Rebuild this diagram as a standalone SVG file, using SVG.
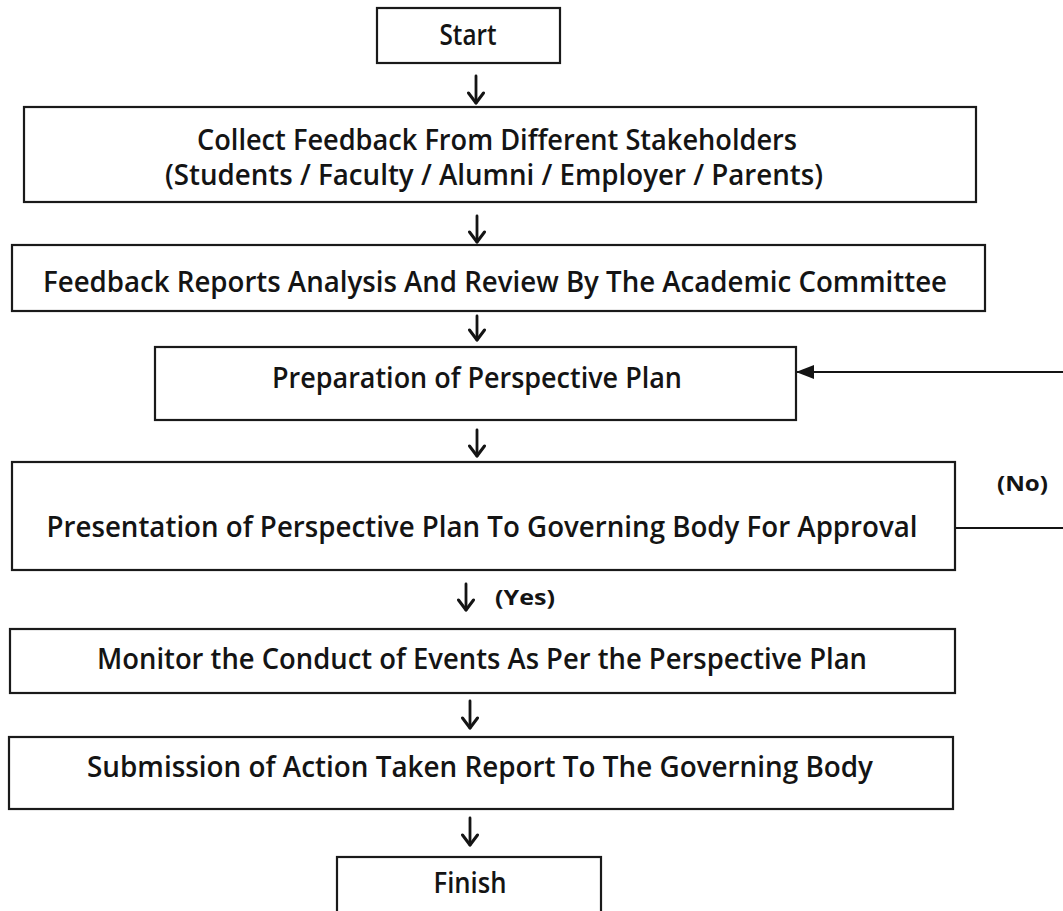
<svg xmlns="http://www.w3.org/2000/svg" width="1063" height="911" viewBox="0 0 1063 911">
  <style>
    .box { fill: #ffffff; stroke: #1a1a1a; stroke-width: 2.2; }
    .lbl { font-family: "Open Sans", "Liberation Sans", sans-serif; font-weight: 600; font-size: 28px; fill: #141414; text-anchor: middle; }
    .tag { font-family: "Open Sans", "Liberation Sans", sans-serif; font-weight: 700; font-size: 22px; fill: #141414; }
    .flow { fill: none; stroke: #141414; stroke-width: 2.8; stroke-linecap: round; }
    .loop { fill: none; stroke: #141414; stroke-width: 2; }
  </style>
  <defs>
    <marker id="chevron" viewBox="0 0 14 18" refX="12" refY="9" markerWidth="14" markerHeight="18" markerUnits="userSpaceOnUse" orient="auto">
      <path d="M2 1.5 L12 9 L2 16.5" fill="none" stroke="#141414" stroke-width="3" stroke-linecap="round" stroke-linejoin="round"/>
    </marker>
    <marker id="solid" viewBox="0 0 18 14" refX="17" refY="7" markerWidth="18" markerHeight="14" markerUnits="userSpaceOnUse" orient="auto">
      <path d="M0 0 L18 7 L0 14 Z" fill="#141414"/>
    </marker>
  </defs>

  <rect width="1063" height="911" fill="#ffffff"/>

  <g id="connectors">
    <path class="flow" d="M476 76 V103" marker-end="url(#chevron)"/>
    <path class="flow" d="M477 216 V242" marker-end="url(#chevron)"/>
    <path class="flow" d="M477 316 V340" marker-end="url(#chevron)"/>
    <path class="flow" d="M477 430 V456" marker-end="url(#chevron)"/>
    <path class="flow" d="M466 584 V610" marker-end="url(#chevron)"/>
    <path class="flow" d="M470 701 V728" marker-end="url(#chevron)"/>
    <path class="flow" d="M470 818 V845" marker-end="url(#chevron)"/>
    <!-- rejection loop back to the plan preparation step -->
    <path class="loop" d="M956 528 H1075 V372 H797" marker-end="url(#solid)"/>
    <text class="tag" x="495" y="605" textLength="60" lengthAdjust="spacingAndGlyphs">(Yes)</text>
    <text class="tag" x="997" y="491" textLength="51" lengthAdjust="spacingAndGlyphs">(No)</text>
  </g>

  <g id="start">
    <rect class="box" x="377" y="8" width="183" height="55"/>
    <text class="lbl" x="468" y="45" font-size="24" textLength="57" lengthAdjust="spacingAndGlyphs">Start</text>
  </g>

  <g id="collect">
    <rect class="box" x="24" y="107" width="952" height="95"/>
    <text class="lbl" x="497" y="150" font-size="25" textLength="600" lengthAdjust="spacingAndGlyphs">Collect Feedback From Different Stakeholders</text>
    <text class="lbl" x="494" y="185" font-size="25" textLength="658" lengthAdjust="spacingAndGlyphs">(Students /  Faculty / Alumni / Employer / Parents)</text>
  </g>

  <g id="review">
    <rect class="box" x="12" y="245" width="973" height="66"/>
    <text class="lbl" x="495" y="292" textLength="904" lengthAdjust="spacingAndGlyphs">Feedback Reports Analysis And Review By The Academic Committee</text>
  </g>

  <g id="prepare">
    <rect class="box" x="155" y="347" width="641" height="73"/>
    <text class="lbl" x="477" y="388" textLength="410" lengthAdjust="spacingAndGlyphs">Preparation of Perspective Plan</text>
  </g>

  <g id="present">
    <rect class="box" x="12" y="462" width="943" height="108"/>
    <text class="lbl" x="482" y="537" textLength="871" lengthAdjust="spacingAndGlyphs">Presentation of Perspective Plan To Governing Body For Approval</text>
  </g>

  <g id="monitor">
    <rect class="box" x="10" y="629" width="945" height="64"/>
    <text class="lbl" x="482" y="669" textLength="770" lengthAdjust="spacingAndGlyphs">Monitor the Conduct of Events As Per the Perspective Plan</text>
  </g>

  <g id="submit">
    <rect class="box" x="9" y="737" width="944" height="72"/>
    <text class="lbl" x="480" y="777" textLength="786" lengthAdjust="spacingAndGlyphs">Submission of Action Taken Report To The Governing Body</text>
  </g>

  <g id="finish">
    <rect class="box" x="337" y="857" width="264" height="70"/>
    <text class="lbl" x="470" y="893" textLength="73" lengthAdjust="spacingAndGlyphs">Finish</text>
  </g>
</svg>
